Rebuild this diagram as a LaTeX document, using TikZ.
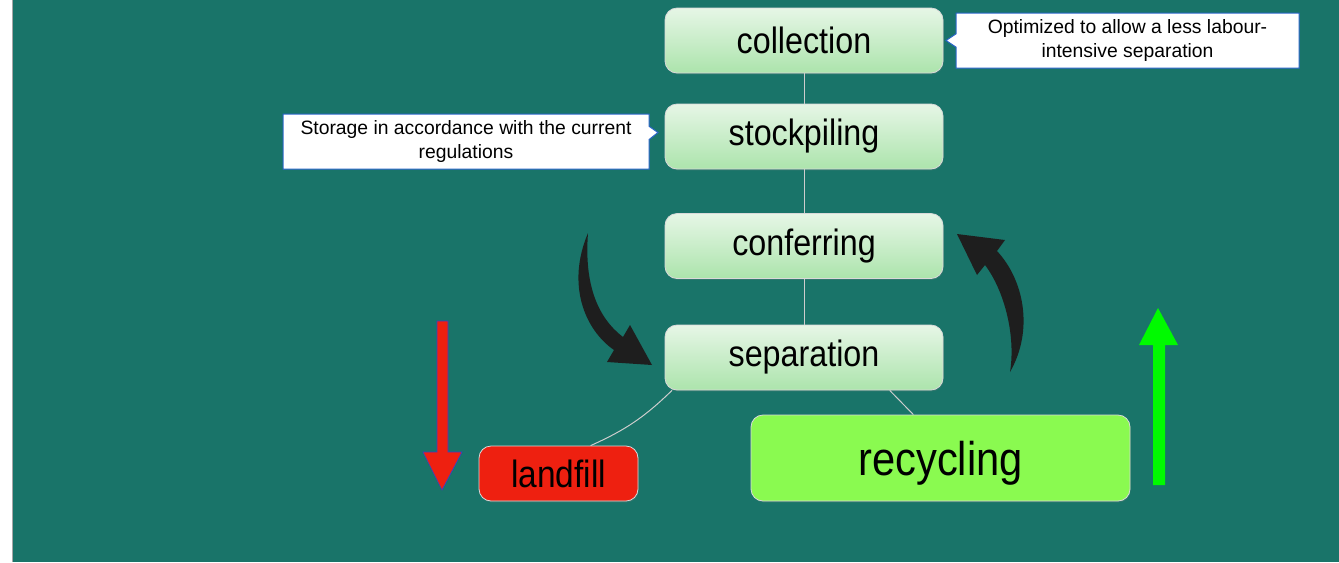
\documentclass[tikz,border=0pt]{standalone}
\usepackage{fontspec}
\setmainfont{Liberation Sans}
\newfontfamily\boxfont[FakeStretch=0.88]{Liberation Sans}
\usetikzlibrary{shapes.callouts,shadows}
\definecolor{bgteal}{RGB}{25,116,105}
\definecolor{boxtop}{RGB}{230,246,230}
\definecolor{boxbottom}{RGB}{172,228,172}
\definecolor{noteblue}{RGB}{40,100,200}
\definecolor{linegray}{RGB}{205,205,205}
\definecolor{landred}{RGB}{238,32,16}
\definecolor{recgreen}{RGB}{138,250,80}
\definecolor{arrowgreen}{RGB}{0,250,0}
\definecolor{arrowblue}{RGB}{60,60,200}
\definecolor{curvedark}{RGB}{30,30,30}

\begin{document}
\begin{tikzpicture}[x=0.75pt,y=0.75pt,yscale=-1,xscale=1,
  stepbox/.style={rectangle, rounded corners=9pt, draw=white!85!black, line width=0.6pt,
    top color=boxtop, bottom color=boxbottom, minimum width=208.5pt, minimum height=48.75pt,
    inner sep=0pt, drop shadow={opacity=0.25, shadow xshift=0.5pt, shadow yshift=-1pt},
    font=\boxfont\fontsize{27.5}{32}\selectfont},
  endbox/.style={rectangle, rounded corners=9pt, draw=white!85!black, line width=0.6pt,
    inner sep=0pt, drop shadow={opacity=0.25, shadow xshift=0.5pt, shadow yshift=-1pt}},
  notebox/.style={rectangle callout, fill=white, draw=noteblue, line width=0.75pt,
    callout pointer width=10pt, align=center, inner sep=0pt, minimum height=41.25pt,
    font=\fontsize{14.5}{17.5}\selectfont},
  link/.style={draw=linegray, line width=0.75pt}
]
\useasboundingbox (0,0) rectangle (1339,562);

%Shape: background
\fill[white] (0,0) rectangle (1339,562);
\fill[bgteal] (13,0) rectangle (1339,562);
\draw[gray!70, line width=0.75pt] (12.5,0) -- (12.5,562);

% Step nodes
\node[stepbox] (collection) at (804,40.5) {collection};
\node[stepbox] (stockpiling) at (804,136.5) {stockpiling};
\node[stepbox] (conferring) at (804,246) {conferring};
\node[stepbox] (separation) at (804,357.5) {separation};
% End nodes
\node[endbox, fill=landred, minimum width=119.25pt, minimum height=41.25pt,
  font=\boxfont\fontsize{28.5}{33}\selectfont] (landfill) at (558.5,473.5) {landfill};
\node[endbox, fill=recgreen, minimum width=284.25pt, minimum height=64.5pt,
  text height=26pt, text depth=0.5pt,
  font=\boxfont\fontsize{35.5}{40}\selectfont] (recycling) at (940.5,458) {recycling};

% Text Node
\node[notebox, minimum width=257.25pt, callout absolute pointer={([xshift=2pt]collection.east)}]
  (optnote) at (1127.5,40.5) {Optimized to allow a less labour-\\intensive separation};
% Text Node
\node[notebox, minimum width=274.5pt, callout absolute pointer={([xshift=-5pt,yshift=-3pt]stockpiling.west)}]
  (storenote) at (466,141.5) {Storage in accordance with the current\\regulations};

%Straight Lines
\draw[link] (collection) -- (stockpiling);
\draw[link] (stockpiling) -- (conferring);
\draw[link] (conferring) -- (separation);
%Curve Lines
\draw[link] (separation.194.7) to[bend right=10] (landfill.41);
\draw[link] (separation.339.3) -- (recycling.122.6);

%Shape: red arrow
\filldraw[fill=landred, draw=arrowblue, line width=0.5pt] (437,321) -- (448,321) -- (448,452) -- (462,452) -- (442,490) -- (423,452) -- (437,452) -- cycle;
%Shape: green arrow
\fill[arrowgreen] (1153,485) -- (1165,485) -- (1165,345) -- (1178,345) -- (1158,308) -- (1139,345) -- (1153,345) -- cycle;

%Shape: curved arrow into separation
\fill[curvedark] (588,233) .. controls (566,285) and (585,330) .. (614,350) -- (607,362) -- (652,365) -- (630,325) -- (623,337) .. controls (598,318) and (584,285) .. (588,233) -- cycle;
%Shape: curved arrow into conferring
\fill[curvedark] (1010,372) .. controls (1034,330) and (1024,280) .. (997,251) -- (1005,240) -- (957,234) -- (977,275) -- (985,265) .. controls (1004,290) and (1016,335) .. (1010,372) -- cycle;

\end{tikzpicture}
\end{document}
